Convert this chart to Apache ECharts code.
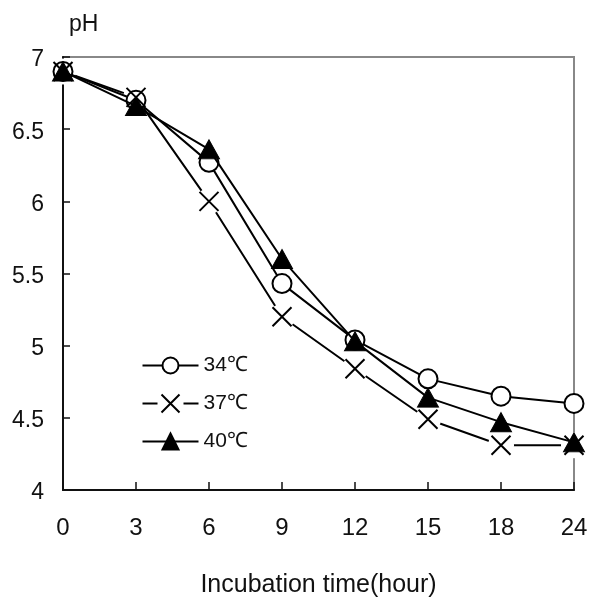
<!DOCTYPE html>
<html><head><meta charset="utf-8">
<script src="https://cdn.jsdelivr.net/npm/echarts@6/dist/echarts.min.js"></script>
<style>html,body{margin:0;padding:0;background:#fff}#c{width:592px;height:603px}</style>
</head><body><div id="c"></div>
<script>
const categories = ['0','3','6','9','12','15','18','24'];
const ph34 = [6.90, 6.70, 6.27, 5.43, 5.04, 4.77, 4.65, 4.60];
const ph37 = [6.90, 6.72, 6.00, 5.20, 4.84, 4.49, 4.31, 4.31];
const ph40 = [6.90, 6.66, 6.36, 5.60, 5.03, 4.64, 4.47, 4.33];
const seriesNames = ['34℃', '37℃', '40℃'];
const yTicks = [4, 4.5, 5, 5.5, 6, 6.5, 7];

const FONT = '"Liberation Sans", Arial, sans-serif';
const XPATH = 'path://M0,0L20,20M20,0L0,20';
const XLEGEND = 'path://M0,10L15,10M19,1L37,19M37,1L19,19M41,10L56,10';
const chart = echarts.init(document.getElementById('c'));
const lineStyle = {color:'#000', width:2};
chart.setOption({
  animation:false,
  backgroundColor:'#fff',
  grid:{left:63, right:18, top:57, bottom:112, show:true, borderColor:'#888', borderWidth:2},
  legend:{
    left:135, top:350, orient:'vertical', itemWidth:56, itemHeight:20, itemGap:16,
    textStyle:{fontFamily:FONT, fontSize:21, color:'#111'},
    data:[{name:seriesNames[0]}, {name:seriesNames[1], icon:XLEGEND}, {name:seriesNames[2]}]
  },
  xAxis:{
    type:'category', data:categories, boundaryGap:false,
    name:'Incubation time(hour)', nameLocation:'middle', nameGap:83,
    nameTextStyle:{fontFamily:FONT, fontSize:25, color:'#111'},
    axisLine:{lineStyle:{color:'#111', width:2}},
    axisTick:{inside:true, length:8, lineStyle:{color:'#111', width:1.5}},
    axisLabel:{fontFamily:FONT, fontSize:24, color:'#111', margin:26},
    splitLine:{show:false}
  },
  yAxis:{
    type:'value', min:4, max:7, interval:0.5,
    name:'pH', nameLocation:'end', nameGap:21,
    nameTextStyle:{fontFamily:FONT, fontSize:23, color:'#111', align:'left', padding:[0,0,0,6]},
    axisLine:{show:true, lineStyle:{color:'#111', width:2}},
    axisTick:{show:true, inside:true, length:7, lineStyle:{color:'#111', width:1.5}},
    axisLabel:{fontFamily:FONT, fontSize:23, color:'#111', margin:19,
      rich:{t:{fontFamily:FONT, fontSize:23, color:'#111', padding:[6,0,0,0]}},
      formatter:v => yTicks.includes(v) ? '{t|' + v + '}' : ''},
    splitLine:{show:false}
  },
  series:[
    {name:seriesNames[0], type:'line', data:ph34, symbol:'circle', symbolSize:19,
     lineStyle:lineStyle, itemStyle:{color:'#fff', borderColor:'#000', borderWidth:2}, z:4},
    {name:seriesNames[1], type:'scatter', data:ph37, symbol:XPATH, symbolSize:19,
     itemStyle:{color:'none', borderColor:'#000', borderWidth:2, opacity:1}, z:5},
    {name:'37line', type:'line', data:ph37, symbol:'none',
     lineStyle:lineStyle, z:2},
    {name:'37halo', type:'scatter', data:ph37, symbol:'circle', symbolSize:26, silent:true,
     itemStyle:{color:'#fff', opacity:1}, z:3},
    {name:seriesNames[2], type:'line', data:ph40, symbol:'triangle', symbolSize:[21,19],
     lineStyle:lineStyle, itemStyle:{color:'#000', borderColor:'#000', borderWidth:1}, z:6}
  ]
});
</script></body></html>
